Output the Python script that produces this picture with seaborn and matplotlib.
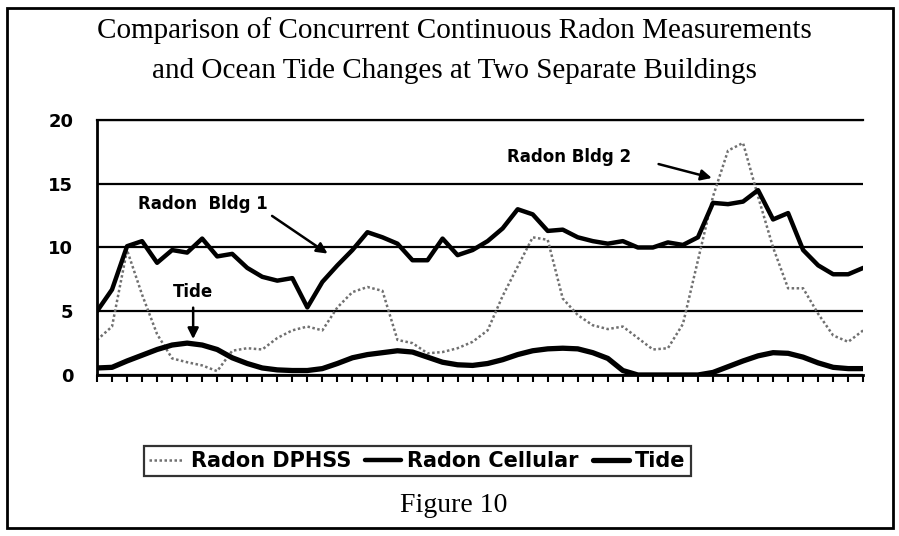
import matplotlib.pyplot as plt
import seaborn as sns
import pandas as pd
from matplotlib.patches import Rectangle

sns.set_style("white")
plt.rcParams['font.family'] = ['DejaVu Sans']
plt.rcParams['text.color'] = 'black'
plt.rcParams['xtick.color'] = 'black'
plt.rcParams['ytick.color'] = 'black'

# values, one per tick
radon_dphss = [2.75, 3.8, 9.8, 6.3, 3.2, 1.3, 1.0, 0.75, 0.3, 1.9,
               2.1, 2.0, 2.9, 3.5, 3.8, 3.5, 5.3, 6.5, 6.9, 6.6,
               2.75, 2.5, 1.7, 1.8, 2.1, 2.6, 3.5, 6.2, 8.5, 10.8,
               10.6, 6.0, 4.7, 3.9, 3.6, 3.8, 2.9, 2.0, 2.1, 4.0,
               9.0, 14.0, 17.6, 18.2, 14.0, 10.0, 6.8, 6.8, 4.8, 3.1,
               2.6, 3.5]
radon_cellular = [5.0, 6.7, 10.1, 10.5, 8.8, 9.8, 9.6, 10.7, 9.3, 9.5,
                  8.4, 7.7, 7.4, 7.6, 5.3, 7.3, 8.6, 9.8, 11.2, 10.8,
                  10.3, 9.0, 9.0, 10.7, 9.4, 9.8, 10.5, 11.5, 13.0, 12.6,
                  11.3, 11.4, 10.8, 10.5, 10.3, 10.5, 10.0, 10.0, 10.4, 10.2,
                  10.8, 13.5, 13.4, 13.6, 14.5, 12.2, 12.7, 9.8, 8.6, 7.9,
                  7.9, 8.4]
tide = [0.55, 0.6, 1.1, 1.55, 2.0, 2.35, 2.5, 2.35, 2.0, 1.35,
        0.9, 0.55, 0.4, 0.35, 0.35, 0.5, 0.9, 1.35, 1.6, 1.75,
        1.9, 1.8, 1.4, 1.0, 0.8, 0.75, 0.9, 1.2, 1.6, 1.9,
        2.05, 2.1, 2.05, 1.75, 1.3, 0.35, 0.0, 0.0, 0.0, 0.0,
        0.0, 0.2, 0.65, 1.1, 1.5, 1.75, 1.7, 1.4, 0.95, 0.6,
        0.5, 0.5]
y_ticks = [0, 5, 10, 15, 20]

df = pd.DataFrame({'t': range(len(tide)), 'dphss': radon_dphss,
                   'cellular': radon_cellular, 'tide': tide})

fig = plt.figure(figsize=(8.99, 5.36), dpi=100)
ax = fig.add_axes([0.1079, 0.3004, 0.8523, 0.4757])

sns.lineplot(data=df, x='t', y='dphss', ax=ax, color='#707070', lw=1.8,
             linestyle=(0, (1, 1)), label='Radon DPHSS')
sns.lineplot(data=df, x='t', y='cellular', ax=ax, color='black', lw=3.2,
             label='Radon Cellular')
sns.lineplot(data=df, x='t', y='tide', ax=ax, color='black', lw=3.8,
             label='Tide')

ax.set_xlim(0, len(tide) - 1)
ax.set_ylim(0, 20)
ax.set_xticks(df['t'])
ax.set_xticklabels([])
ax.set_yticks(y_ticks)
ax.set_yticklabels([str(v) for v in y_ticks], fontsize=13, fontweight='bold')
ax.set_xlabel('')
ax.set_ylabel('')
ax.yaxis.grid(True, color='black', lw=1.6)
ax.tick_params(axis='y', direction='out', length=9, width=1.6, pad=8)
ax.tick_params(axis='x', direction='out', length=5, width=1.5, bottom=True)
for s in ['left', 'bottom']:
    ax.spines[s].set_color('black')
    ax.spines[s].set_linewidth(2)
ax.spines['top'].set_color('black')
ax.spines['top'].set_linewidth(1.6)
ax.spines['right'].set_visible(False)

arrow = dict(arrowstyle='-|>', color='black', lw=1.8, mutation_scale=16)
ax.text(2.7, 13.4, 'Radon  Bldg 1', fontsize=12, fontweight='bold', va='center')
ax.annotate('', xy=(15.5, 9.4), xytext=(11.5, 12.6), arrowprops=arrow)
ax.text(27.3, 17.1, 'Radon Bldg 2', fontsize=12, fontweight='bold', va='center')
ax.annotate('', xy=(41.1, 15.4), xytext=(37.2, 16.6), arrowprops=arrow)
ax.text(6.4, 6.5, 'Tide', fontsize=12, fontweight='bold', ha='center', va='center')
ax.annotate('', xy=(6.4, 2.6), xytext=(6.4, 5.5), arrowprops=arrow)

handles, labels = ax.get_legend_handles_labels()
ax.get_legend().remove()
leg = fig.legend(handles, labels, loc='center', bbox_to_anchor=(0.464, 0.14),
                 ncol=3, frameon=True, fancybox=False, edgecolor='black',
                 handlelength=1.7, handletextpad=0.3, columnspacing=0.7,
                 borderpad=0.25, prop={'weight': 'bold', 'size': 15})
leg.get_frame().set_linewidth(1.6)

fig.text(0.505, 0.929, 'Comparison of Concurrent Continuous Radon Measurements',
         family='Liberation Serif', fontsize=21, ha='center', va='baseline')
fig.text(0.505, 0.854, 'and Ocean Tide Changes at Two Separate Buildings',
         family='Liberation Serif', fontsize=21, ha='center', va='baseline')
fig.text(0.505, 0.045, 'Figure 10', family='Liberation Serif', fontsize=20,
         ha='center', va='baseline')

fig.patches.append(Rectangle((0.0078, 0.0149), 0.9855, 0.970, transform=fig.transFigure,
                             fill=False, lw=2, edgecolor='black'))

fig.savefig('out.png', dpi=100)
